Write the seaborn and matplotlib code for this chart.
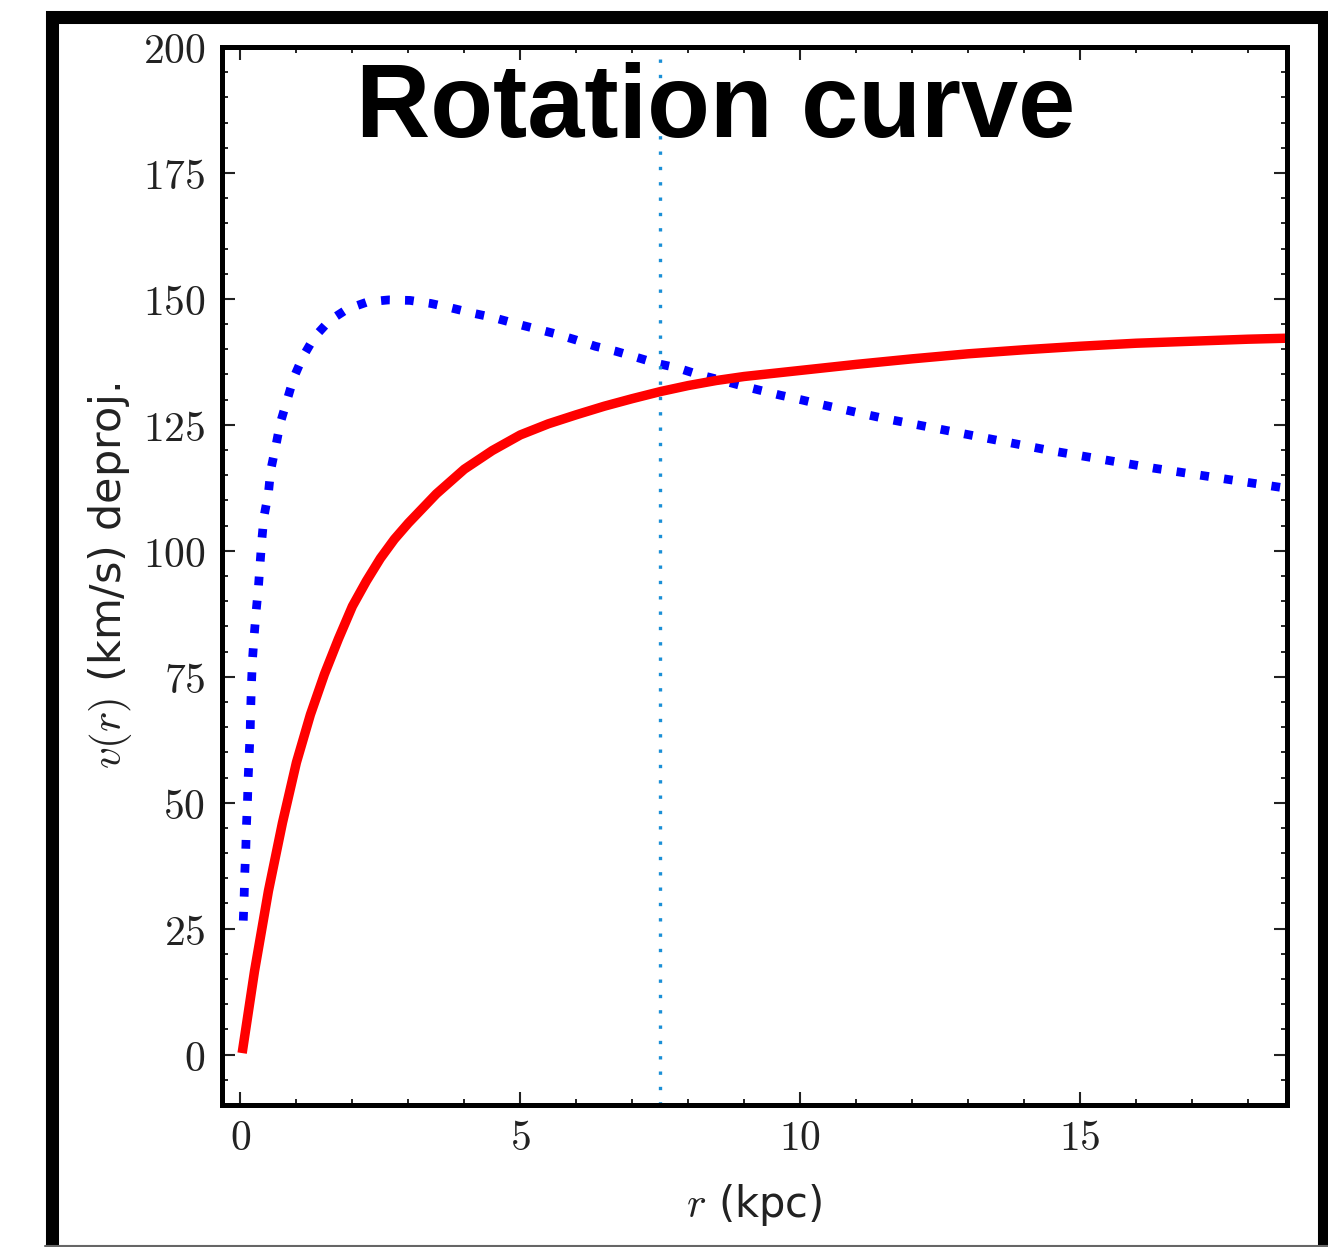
import numpy as np
import pandas as pd
import matplotlib
matplotlib.use("Agg")
import matplotlib.pyplot as plt
import seaborn as sns
from matplotlib.ticker import MultipleLocator, FuncFormatter
from matplotlib.patches import Rectangle
from matplotlib.lines import Line2D

# ---- data ----
r_model = [0.03, 0.25, 0.5, 0.75, 1.0, 1.25, 1.5, 1.75, 2.0, 2.25, 2.5, 2.75, 3.0, 3.5,
           4.0, 4.5, 5.0, 5.5, 6.0, 6.5, 7.0, 7.5, 8.0, 8.5, 9.0, 10.0, 11.0, 12.0,
           13.0, 14.0, 15.0, 16.0, 17.0, 18.0, 18.7]
v_model = [0.3, 16.5, 32.5, 46.0, 58.0, 67.5, 75.5, 82.5, 89.0, 94.0, 98.5, 102.3, 105.5, 111.3,
           116.2, 119.9, 123.0, 125.2, 127.0, 128.7, 130.2, 131.6, 132.8, 133.8, 134.6, 135.8, 137.0, 138.1,
           139.1, 139.9, 140.6, 141.2, 141.6, 142.0, 142.2]

r_obs = [0.05, 0.066, 0.077, 0.095, 0.107, 0.125, 0.138, 0.156, 0.174, 0.184, 0.197,
         0.215, 0.245, 0.28, 0.32, 0.35, 0.38, 0.42, 0.5, 0.54, 0.63, 0.71, 0.83, 0.95,
         1.11, 1.32, 1.59, 1.91, 2.27, 2.65, 3.03, 3.40, 3.77, 4.14, 4.52, 4.88, 5.62,
         5.98, 6.34, 6.71, 7.08, 7.44, 7.81, 8.18, 8.54, 8.91, 9.27, 9.64, 10.01, 10.39,
         10.76, 11.12, 11.49, 12.24, 14.47, 16.32, 18.7]
v_obs = [26.6, 31.4, 36.0, 40.8, 45.5, 50.2, 55.0, 59.6, 64.4, 69.1, 73.8,
         78.5, 83.2, 88.0, 92.7, 97.4, 102.0, 106.8, 111.5, 116.0, 120.7, 125.3, 129.8, 134.3,
         138.4, 142.4, 145.7, 148.0, 149.4, 149.8, 149.7, 149.1, 148.2, 147.2, 146.3, 145.2, 143.1,
         141.9, 140.6, 139.6, 138.4, 137.2, 136.3, 135.0, 134.0, 132.9, 131.9, 130.9, 130.0, 129.0,
         128.1, 127.2, 126.3, 124.7, 119.9, 116.4, 112.4]

r_marker = 7.5

x_ticks = [0, 5, 10, 15]
y_ticks = [0, 25, 50, 75, 100, 125, 150, 175, 200]

title_text = "Rotation curve"
xlabel_text = r"$r$ (kpc)"
ylabel_text = r"$v(r)$ (km/s) deproj."

# ---- style ----
sns.set_theme(style="ticks")
plt.rcParams["font.family"] = ["DejaVu Sans"]
plt.rcParams["mathtext.fontset"] = "cm"

fig = plt.figure(figsize=(13.28, 12.47), dpi=100)
fig.patch.set_facecolor("white")
ax = fig.add_axes([222 / 1328, 1 - 1105 / 1247, (1287 - 222) / 1328, (1105 - 47) / 1247])
ax.set_facecolor("white")

df_model = pd.DataFrame({"r": r_model, "v": v_model})
df_obs = pd.DataFrame({"r": r_obs, "v": v_obs})

sns.lineplot(data=df_obs, x="r", y="v", ax=ax, color="#0000ff", lw=6.3,
             linestyle=(0, (1, 1.74)), estimator=None, sort=False)
sns.lineplot(data=df_model, x="r", y="v", ax=ax, color="#ff0000", lw=6.8,
             estimator=None, sort=False)
for l in ax.lines:
    l.set_dash_capstyle("butt")
    l.set_solid_capstyle("butt")
    l.set_solid_joinstyle("round")

ax.axvline(r_marker, color="#1a8fd6", lw=2.4, linestyle=(0, (1, 3.6)))

ax.set_xlim(-0.33, 18.7)
ax.set_ylim(-10, 200)
ax.set_xticks(x_ticks)
ax.set_yticks(y_ticks)
ax.xaxis.set_minor_locator(MultipleLocator(1))
ax.yaxis.set_minor_locator(MultipleLocator(5))
fmt = FuncFormatter(lambda v, p: f"${int(round(v))}$")
ax.xaxis.set_major_formatter(fmt)
ax.yaxis.set_major_formatter(fmt)

ax.tick_params(which="both", direction="in", top=True, right=True, color="black")
ax.tick_params(which="major", length=9.5, width=1.5, labelsize=30, colors="#222222")
ax.tick_params(which="minor", length=4, width=1.2)
ax.tick_params(axis="y", which="major", pad=12)
ax.tick_params(axis="x", which="major", pad=9)
for s in ax.spines.values():
    s.set_linewidth(3.6)
    s.set_color("black")
    s.set_visible(True)

ax.set_xlabel(xlabel_text, fontsize=30, color="#222222", labelpad=16)
ax.set_ylabel(ylabel_text, fontsize=31, color="#222222", labelpad=6)

fig.text(716 / 1328, 1 - 137 / 1247, title_text, ha="center", va="baseline",
         fontsize=74, fontweight="bold", family=["Liberation Sans", "DejaVu Sans"],
         color="black")

# outer frame
fig.add_artist(Rectangle((51.5 / 1328, 1 - 1258 / 1247), (1324 - 51.5) / 1328,
                         (1258 - 16.5) / 1247, transform=fig.transFigure,
                         fill=False, edgecolor="black", lw=9.4, clip_on=False))
fig.add_artist(Line2D([45 / 1328, 1.0], [1 - 1245.5 / 1247] * 2, transform=fig.transFigure,
                      color="#666666", lw=1.5))

fig.savefig("out.png", dpi=100, facecolor="white")
